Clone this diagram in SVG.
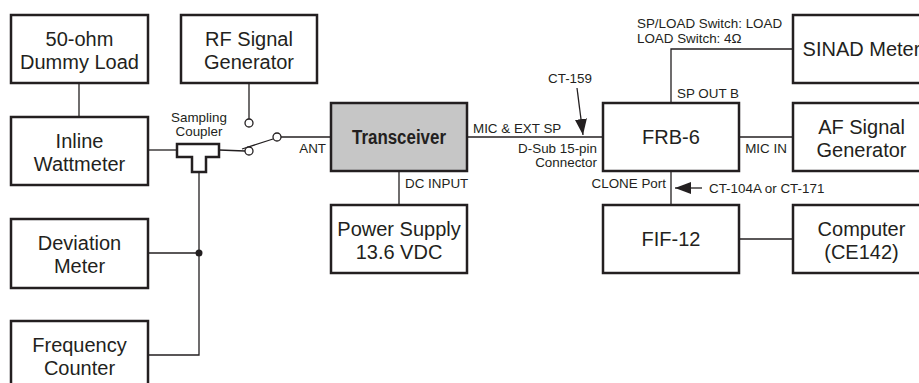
<svg xmlns="http://www.w3.org/2000/svg" width="919" height="383" viewBox="0 0 919 383">
<style>
.box{fill:#fff;stroke:#231f20;stroke-width:2.5}
.gray{fill:#c6c6c6}
.t{font-family:"Liberation Sans",Arial,sans-serif;font-size:20px;fill:#231f20;text-anchor:middle}
.b{font-weight:bold}
.s{font-family:"Liberation Sans",Arial,sans-serif;font-size:13.4px;fill:#231f20}
.w{fill:none;stroke:#231f20;stroke-width:1.3}
.c{fill:#fff;stroke:#231f20;stroke-width:1.3}
</style>
<defs>
<marker id="ah" markerUnits="userSpaceOnUse" markerWidth="18" markerHeight="13" refX="16" refY="6" orient="auto">
<path d="M0,0 L16,6 L0,12 z" fill="#231f20"/>
</marker>
</defs>
<rect width="919" height="383" fill="#fff"/>
<g id="connectors">
<line class="w" x1="79" y1="83" x2="79" y2="117"/>
<line class="w" x1="249" y1="83" x2="249" y2="119"/>
<line class="w" x1="148" y1="150" x2="177" y2="150"/>
<line class="w" x1="219" y1="150" x2="245" y2="151"/>
<line class="w" x1="242" y1="149" x2="273" y2="139"/>
<line class="w" x1="281" y1="137" x2="331" y2="137"/>
<polyline class="w" points="199,172 199,355 148,355"/>
<line class="w" x1="148" y1="253" x2="199" y2="253"/>
<circle cx="199" cy="253" r="3.5" fill="#231f20"/>
<line class="w" x1="399" y1="171" x2="399" y2="205"/>
<line class="w" x1="467" y1="137" x2="603" y2="137"/>
<polyline class="w" points="671,103 671,49 793,49"/>
<line class="w" x1="739" y1="137" x2="793" y2="137"/>
<line class="w" x1="671" y1="171" x2="671" y2="205"/>
<line class="w" x1="739" y1="239" x2="793" y2="239"/>
<line class="w" x1="577" y1="88" x2="583" y2="135" marker-end="url(#ah)"/>
<line class="w" x1="702" y1="188" x2="675" y2="188" marker-end="url(#ah)"/>
<circle class="c" cx="249" cy="123" r="4"/>
<circle class="c" cx="249" cy="151" r="4"/>
<circle class="c" cx="277" cy="137" r="4"/>
</g>
<g id="coupler">
<path class="box" d="M177,144 H219 V157 H206 V172 H192 V157 H177 Z"/>
<text class="s" x="199" y="122" text-anchor="middle">Sampling</text>
<text class="s" x="199" y="136" text-anchor="middle">Coupler</text>
</g>
<g id="dummy-load">
<rect class="box" x="11" y="15" width="137" height="68"/>
<text class="t" x="79.5" y="46">50-ohm</text>
<text class="t" x="79.5" y="69">Dummy Load</text>
</g>
<g id="rf-gen">
<rect class="box" x="181" y="15" width="136" height="68"/>
<text class="t" x="249" y="46">RF Signal</text>
<text class="t" x="249" y="69">Generator</text>
</g>
<g id="wattmeter">
<rect class="box" x="11" y="117" width="137" height="68"/>
<text class="t" x="79.5" y="148">Inline</text>
<text class="t" x="79.5" y="171">Wattmeter</text>
</g>
<g id="deviation">
<rect class="box" x="11" y="219" width="137" height="69"/>
<text class="t" x="79.5" y="250">Deviation</text>
<text class="t" x="79.5" y="273">Meter</text>
</g>
<g id="freq-counter">
<rect class="box" x="11" y="321" width="137" height="68"/>
<text class="t" x="79.5" y="352">Frequency</text>
<text class="t" x="79.5" y="375">Counter</text>
</g>
<g id="transceiver">
<rect class="box gray" x="331" y="103" width="136" height="68"/>
<text class="t b" x="399" y="144" font-size="18" textLength="94" lengthAdjust="spacingAndGlyphs">Transceiver</text>
<text class="s" x="326" y="153" text-anchor="end">ANT</text>
<text class="s" x="405" y="188">DC INPUT</text>
<text class="s" x="473" y="133">MIC &amp; EXT SP</text>
</g>
<g id="power-supply">
<rect class="box" x="331" y="205" width="136" height="68"/>
<text class="t" x="399" y="236">Power Supply</text>
<text class="t" x="399" y="259">13.6 VDC</text>
</g>
<g id="frb6">
<rect class="box" x="603" y="103" width="136" height="68"/>
<text class="t" x="671" y="144">FRB-6</text>
<text class="s" x="597" y="153" text-anchor="end">D-Sub 15-pin</text>
<text class="s" x="597" y="167" text-anchor="end">Connector</text>
<text class="s" x="570" y="83" text-anchor="middle">CT-159</text>
<text class="s" x="677" y="98">SP OUT B</text>
<text class="s" x="637" y="28">SP/LOAD Switch: LOAD</text>
<text class="s" x="637" y="43">LOAD Switch: 4Ω</text>
<text class="s" x="766" y="153" text-anchor="middle">MIC IN</text>
<text class="s" x="666" y="188" text-anchor="end">CLONE Port</text>
<text class="s" x="709" y="193">CT-104A or CT-171</text>
</g>
<g id="sinad">
<rect class="box" x="793" y="15" width="137" height="68"/>
<text class="t" x="861.5" y="56">SINAD Meter</text>
</g>
<g id="af-gen">
<rect class="box" x="793" y="103" width="137" height="68"/>
<text class="t" x="861.5" y="134">AF Signal</text>
<text class="t" x="861.5" y="157">Generator</text>
</g>
<g id="fif12">
<rect class="box" x="603" y="205" width="136" height="68"/>
<text class="t" x="671" y="246">FIF-12</text>
</g>
<g id="computer">
<rect class="box" x="793" y="205" width="137" height="68"/>
<text class="t" x="861.5" y="236">Computer</text>
<text class="t" x="861.5" y="259">(CE142)</text>
</g>
</svg>
